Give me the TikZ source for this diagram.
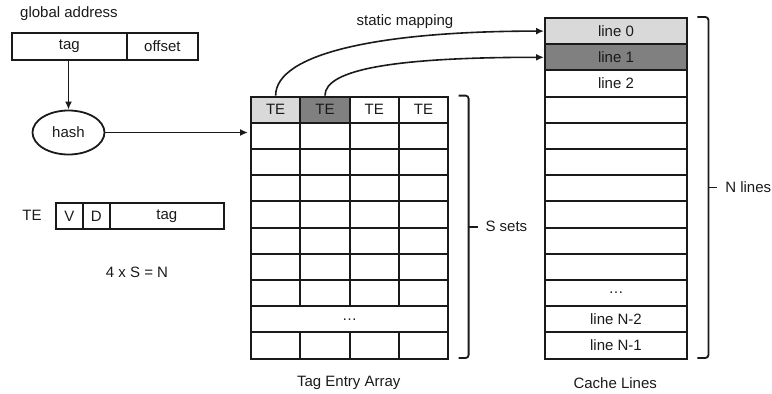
\documentclass[tikz,border=0pt]{standalone}
\usepackage{fontspec}
\setmainfont{Liberation Sans}
\usetikzlibrary{arrows.meta,shapes.geometric}

\definecolor{lightfill}{HTML}{D9D9D9}
\definecolor{darkfill}{HTML}{808080}
\definecolor{ink}{HTML}{1A1A1A}

\tikzset{
  lbl/.style={font=\fontsize{15}{18}\selectfont, inner sep=0pt, text=ink},
  box/.style={draw=ink, line width=1.8pt, inner sep=0pt, anchor=north west, lbl},
  cell/.style={box, line width=2pt, minimum width=#1, minimum height=26.2pt},
  frame/.style={inner sep=0pt, anchor=north west},
  arr/.style={draw=ink, line width=1.6pt, -{Latex[length=8pt,width=7pt]}},
  bracket/.style={draw=ink, line width=1.8pt, rounded corners=3pt},
}

\begin{document}
\begin{tikzpicture}[x=1pt, y=-1pt]
\useasboundingbox (0,0) rectangle (772,394);

% --- global address and hash ---
\node[lbl, anchor=west] (galabel) at (20,14) {global address};
\node[box, minimum width=115pt, minimum height=27pt] (gatag) at (11,32) {tag};
\node[box, minimum width=71pt, minimum height=27pt] (gaoff) at (126,32) {offset};
\node[draw=ink, line width=1.8pt, ellipse, minimum width=72pt, minimum height=44pt, lbl] (hash) at (68.5,132.5) {hash};
\draw[arr] (gatag.south -| hash.north) -- (hash.north);

% --- tag entry layout ---
\node[lbl] (telabel) at (32,215) {TE};
\node[box, minimum width=27pt, minimum height=26pt] (tev) at (55,202) {V};
\node[box, minimum width=27pt, minimum height=26pt] (ted) at (82,202) {D};
\node[box, minimum width=114pt, minimum height=26pt] (tetag) at (109,202) {tag};
\node[lbl] (eqn) at (137,272) {4 x S = N};

% --- tag entry array ---
\node[frame, minimum width=197.2pt, minimum height=262pt] (tea) at (250,95.6) {};
\node[cell=49.3pt, fill=lightfill] (te-0-0) at (250,95.6) {TE};
\node[cell=49.3pt, fill=darkfill]  (te-0-1) at (299.3,95.6) {TE};
\node[cell=49.3pt] (te-0-2) at (348.6,95.6) {TE};
\node[cell=49.3pt] (te-0-3) at (397.9,95.6) {TE};
\foreach \r in {1,...,7,9}{
  \foreach \c in {0,...,3}{
    \node[cell=49.3pt] (te-\r-\c) at ({250+49.3*\c},{95.6+26.2*\r}) {};
  }
}
\node[cell=197.2pt] (te-8) at (250,305.2) {…};
\draw[arr] (hash.east) -- ([xshift=-2pt]hash.east -| tea.west);

% S sets bracket
\draw[bracket] ([xshift=11pt]tea.north east) -- ([xshift=21pt]tea.north east)
  -- ([xshift=21pt]tea.south east) -- ([xshift=11pt]tea.south east);
\draw[draw=ink, line width=1.8pt] ([xshift=21pt]tea.east) -- ([xshift=30pt]tea.east)
  node[lbl, anchor=west, xshift=7pt] (ssets) {S sets};

\node[lbl] (tealabel) at ([yshift=-25pt]tea.south) {Tag Entry Array};

% --- cache lines ---
\node[frame, minimum width=142pt, minimum height=340.6pt] (cache) at (544,17) {};
\node[cell=142pt, fill=lightfill] (cl-0) at (544,17) {line 0};
\node[cell=142pt, fill=darkfill]  (cl-1) at (544,43.2) {line 1};
\node[cell=142pt] (cl-2) at (544,69.4) {line 2};
\foreach \r in {3,...,9}{
  \node[cell=142pt] (cl-\r) at (544,{17+26.2*\r}) {};
}
\node[cell=142pt] (cl-10) at (544,279) {…};
\node[cell=142pt] (cl-11) at (544,305.2) {line N-2};
\node[cell=142pt] (cl-12) at (544,331.4) {line N-1};

% N lines bracket
\draw[bracket] ([xshift=11pt]cache.north east) -- ([xshift=22pt]cache.north east)
  -- ([xshift=22pt]cache.south east) -- ([xshift=11pt]cache.south east);
\draw[draw=ink, line width=1.8pt] ([xshift=22pt]cache.east) -- ([xshift=31pt]cache.east)
  node[lbl, anchor=west, xshift=7pt] (nlines) {N lines};

\node[lbl] (cllabel) at ([yshift=-25pt]cache.south) {Cache Lines};

% --- static mapping ---
\node[lbl] (maplabel) at (405,22) {static mapping};
\draw[arr] (te-0-0.north) .. controls +(0,-42) and +(-165,0) .. (cl-0.west);
\draw[arr] (te-0-1.north) .. controls +(0,-27) and +(-145,0) .. (cl-1.west);
\end{tikzpicture}
\end{document}
